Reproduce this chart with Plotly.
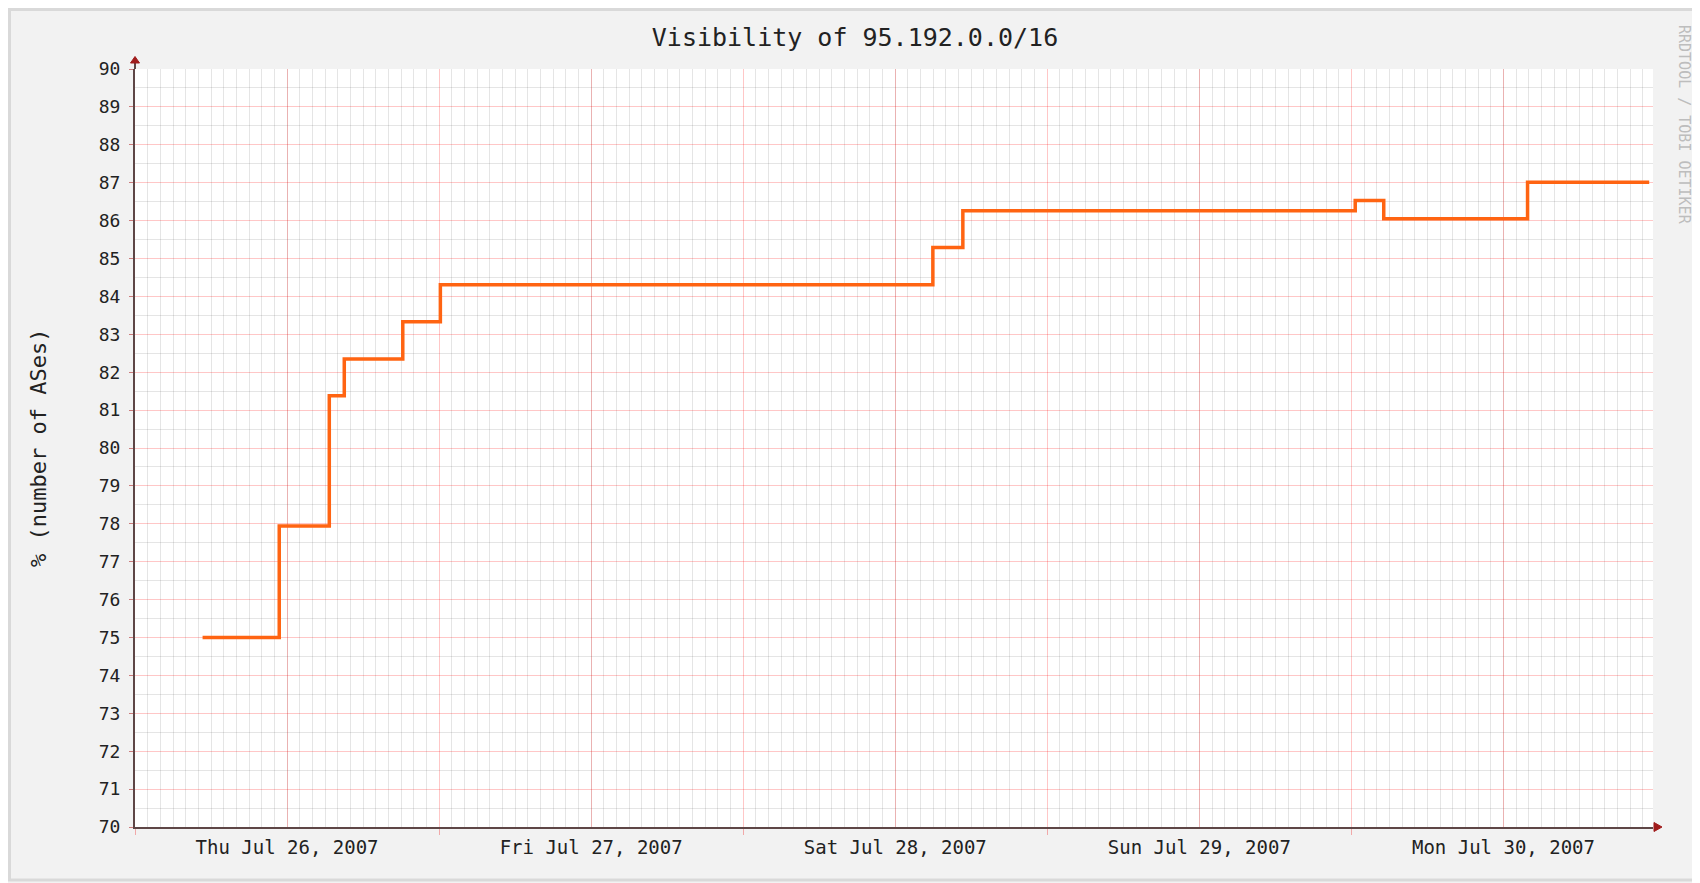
import pandas as pd
import plotly.graph_objects as go

# ---- data ----
step_times = ["2007-07-26 05:20", "2007-07-26 11:23", "2007-07-26 15:20", "2007-07-26 16:31",
              "2007-07-26 21:08", "2007-07-27 00:06", "2007-07-28 14:58", "2007-07-28 17:20",
              "2007-07-30 00:18", "2007-07-30 02:33", "2007-07-30 13:54", "2007-07-30 23:30"]
visibility = [75.0, 77.94, 81.38, 82.35, 83.33, 84.31, 85.29, 86.26, 86.53, 86.05, 87.01, 87.01]

label_times = ["2007-07-26 12:00", "2007-07-27 12:00", "2007-07-28 12:00",
               "2007-07-29 12:00", "2007-07-30 12:00"]
label_texts = ["Thu Jul 26, 2007", "Fri Jul 27, 2007", "Sat Jul 28, 2007",
               "Sun Jul 29, 2007", "Mon Jul 30, 2007"]
x_range = ["2007-07-26 00:00", "2007-07-30 23:48"]
y_range = [70, 90]

title_text = "Visibility of 95.192.0.0/16"
y_title = "% (number of ASes)"
watermark = "RRDTOOL / TOBI OETIKER"

FONT = "DejaVu Sans Mono"
MAJ = "rgba(255,0,0,0.22)"
MIN = "rgba(110,110,110,0.18)"
AXIS = "#5e4646"
ARROW = "#a01c1c"

W, H = 1692, 875

fig = go.Figure()
fig.add_trace(go.Scatter(x=pd.to_datetime(step_times), y=visibility, mode="lines",
                         line=dict(color="#ff6412", width=3.5, shape="hv"),
                         hoverinfo="skip", showlegend=False))
# invisible companion trace so the overlaid label axis is drawn
fig.add_trace(go.Scatter(x=pd.to_datetime(step_times), y=visibility, mode="lines",
                         line=dict(color="rgba(0,0,0,0)", width=0), xaxis="x2",
                         hoverinfo="skip", showlegend=False))

fig.update_layout(
    width=W, height=H,
    margin=dict(l=127, r=47, t=61, b=56),
    paper_bgcolor="#f2f2f2", plot_bgcolor="white",
    font=dict(family=FONT, size=18, color="#222"),
    title=dict(text=title_text, x=847 / W, xref="container", xanchor="center",
               y=1 - 29 / H, yanchor="middle", font=dict(family=FONT, size=25, color="#222")),
    xaxis=dict(type="date", range=x_range, tickmode="linear", tick0="2007-07-26",
               dtick=86400000, showticklabels=False, ticks="outside", ticklen=6,
               tickcolor="rgba(240,150,150,0.8)", showgrid=True, gridcolor=MAJ, gridwidth=1,
               showline=True, linecolor=AXIS, linewidth=2, zeroline=False,
               minor=dict(tickmode="linear", tick0="2007-07-26", dtick=3600000,
                          showgrid=True, gridcolor=MIN, gridwidth=1, ticks="")),
    xaxis2=dict(type="date", overlaying="x", matches="x", side="bottom", range=x_range,
                tickmode="array", tickvals=pd.to_datetime(label_times), ticktext=label_texts,
                ticks="", showgrid=True, gridcolor=MAJ, gridwidth=1, showline=False,
                zeroline=False, ticklabelstandoff=7,
                tickfont=dict(family=FONT, size=19, color="#222")),
    yaxis=dict(range=y_range, tickmode="linear", tick0=70, dtick=1, ticks="outside",
               ticklen=4, tickcolor="rgba(200,110,110,0.9)", showgrid=True, gridcolor=MAJ,
               gridwidth=1, showline=True, linecolor=AXIS, linewidth=2, zeroline=False,
               ticklabelstandoff=5, tickfont=dict(family=FONT, size=18, color="#222"),
               minor=dict(tickmode="linear", tick0=70, dtick=0.5, showgrid=True,
                          gridcolor=MIN, gridwidth=1, ticks="")),
)

shapes = [
    # outer frame of the image (left, top, bottom edges)
    dict(type="path", xref="paper", yref="paper", xsizemode="pixel", ysizemode="pixel",
         xanchor=0, yanchor=1,
         path="M 1700 -811 L -125.5 -811 L -125.5 59.5 L 1700 59.5",
         line=dict(color="#d9d9d9", width=3)),
    # y-axis extension and arrow
    dict(type="line", xref="paper", yref="paper", xsizemode="pixel", ysizemode="pixel",
         xanchor=0, yanchor=1, x0=0, x1=0, y0=0, y1=6, line=dict(color=AXIS, width=2)),
    dict(type="path", xref="paper", yref="paper", xsizemode="pixel", ysizemode="pixel",
         xanchor=0, yanchor=1, path="M -4.5 6 L 4.5 6 L 0 12.5 Z",
         fillcolor=ARROW, line=dict(color=ARROW, width=1)),
    # x-axis arrow
    dict(type="path", xref="paper", yref="paper", xsizemode="pixel", ysizemode="pixel",
         xanchor=1, yanchor=0, path="M 1 -4.5 L 1 4.5 L 9 0 Z",
         fillcolor=ARROW, line=dict(color=ARROW, width=1)),
]
fig.update_layout(shapes=shapes)

fig.add_annotation(text=y_title, xref="paper", yref="paper", x=0, y=0.5, xshift=-97,
                   showarrow=False, textangle=-90, xanchor="center", yanchor="middle",
                   font=dict(family=FONT, size=22, color="#222"))
fig.add_annotation(text=watermark, xref="paper", yref="paper", x=1, y=1, xshift=31, yshift=-56,
                   showarrow=False, textangle=90, xanchor="center", yanchor="middle",
                   font=dict(family=FONT, size=15, color="#bdbdbd"))

fig.write_html("out.html")
